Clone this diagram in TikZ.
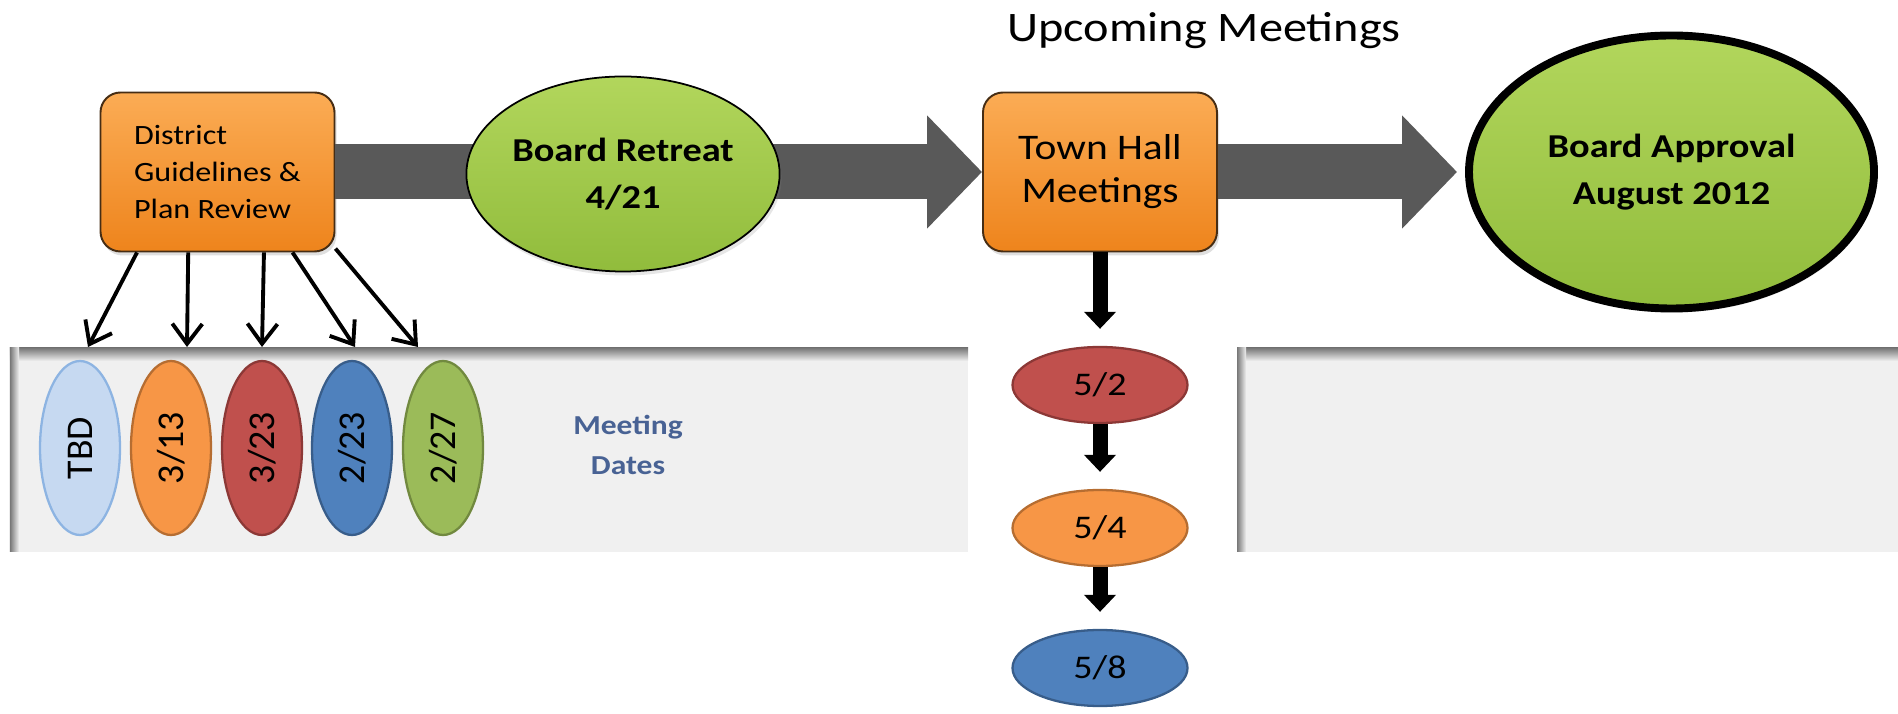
\documentclass[tikz,border=0pt]{standalone}
\usepackage{fontspec}
\setmainfont{Carlito}[FakeStretch=1.15]
\newfontfamily\datefont{Carlito}
\usetikzlibrary{arrows.meta,shapes.geometric,shadows}

\definecolor{orangetop}{RGB}{251,172,85}
\definecolor{orangebottom}{RGB}{238,132,28}
\definecolor{boxedge}{RGB}{70,45,20}
\definecolor{greentop}{RGB}{178,214,92}
\definecolor{greenbottom}{RGB}{145,188,60}
\definecolor{bandgray}{RGB}{89,89,89}
\definecolor{panelfill}{RGB}{240,240,240}
\definecolor{panelshade}{RGB}{120,120,120}
\definecolor{tbd}{RGB}{198,217,241}
\definecolor{tbdline}{RGB}{141,180,226}
\definecolor{orng}{RGB}{247,150,70}
\definecolor{orngline}{RGB}{182,109,49}
\definecolor{datered}{RGB}{192,80,77}
\definecolor{dateredline}{RGB}{140,56,54}
\definecolor{dateblue}{RGB}{79,129,189}
\definecolor{dateblueline}{RGB}{56,93,138}
\definecolor{dategreen}{RGB}{155,187,89}
\definecolor{dategreenline}{RGB}{113,137,63}
\definecolor{datestext}{RGB}{72,98,148}

\tikzset{
  planbox/.style={draw=boxedge, line width=1.1pt, rounded corners=0.4cm,
    top color=orangetop, bottom color=orangebottom,
    minimum width=4.68cm, minimum height=3.18cm,
    drop shadow={opacity=0.25, shadow xshift=0.04cm, shadow yshift=-0.08cm}},
  greenoval/.style={ellipse, draw=black, top color=greentop, bottom color=greenbottom,
    align=center, inner sep=0pt, font=\bfseries\fontsize{19}{26.4}\selectfont,
    drop shadow={opacity=0.2, shadow xshift=0.04cm, shadow yshift=-0.08cm}},
  dateoval/.style={ellipse, draw=#1line, fill=#1, line width=1.3pt, rotate=90,
    minimum width=3.48cm, minimum height=1.6cm, inner sep=0pt,
    font=\datefont\fontsize{21.5}{21.5}\selectfont},
  townoval/.style={ellipse, draw=#1line, fill=#1, line width=1.3pt,
    minimum width=3.5cm, minimum height=1.52cm, inner sep=0pt,
    font=\fontsize{18.8}{18.8}\selectfont},
  band/.style={draw=bandgray, line width=1.1cm, -{Triangle[length=1.1cm,width=2.2cm]}},
  bigdown/.style={draw=black, line width=0.3cm, -{Triangle[length=0.34cm,width=0.62cm]}, shorten >=0.34cm},
  datearrow/.style={draw=black, line width=2.2pt, -{Straight Barb[length=0.4cm,width=0.6cm]}}
}

\begin{document}
\begin{tikzpicture}
\useasboundingbox (0,0) rectangle (37.96,14.26);

\fill[panelfill] (0.2,3.22) rectangle (19.36,7.3);
\shade[top color=panelshade, bottom color=panelfill] (0.2,7.04) rectangle (19.36,7.3);
\shade[left color=panelshade, right color=panelfill] (0.2,3.22) rectangle (0.38,7.3);
\fill[panelfill] (24.74,3.22) rectangle (37.96,7.3);
\shade[top color=panelshade, bottom color=panelfill] (24.74,7.04) rectangle (37.96,7.3);
\shade[left color=panelshade, right color=panelfill] (24.74,3.22) rectangle (24.92,7.3);

\node[font=\fontsize{23.9}{28}\selectfont, anchor=base] (upcoming) at (24.08,13.42) {Upcoming Meetings};

\node[planbox, align=left, font=\fontsize{15.9}{21}\selectfont] (dist) at (4.35,10.82) {District\\Guidelines \&\\Plan Review};
\node[planbox, align=center, font=\fontsize{20.5}{24.5}\selectfont] (town) at (22,10.82) {Town Hall\\Meetings};
\node[greenoval, line width=4.5pt, minimum width=8.1cm, minimum height=5.46cm] (appr) at (33.43,10.82) {Board Approval\\August 2012};

\draw[band] (dist.east) -- (town.west);
\draw[band, shorten >=0.16cm] (town.east) -- (appr.west);

\node[greenoval, line width=1pt, minimum width=5.8cm, minimum height=3.9cm] (retreat) at (12.46,10.78) {Board Retreat\\4/21};

\node[dateoval=tbd] (tbd) at (1.6,5.3) {TBD};
\node[dateoval=orng] (d313) at (3.42,5.3) {3/13};
\node[dateoval=datered] (d323) at (5.24,5.3) {3/23};
\node[dateoval=dateblue] (d223) at (7.04,5.3) {2/23};
\node[dateoval=dategreen] (d227) at (8.86,5.3) {2/27};
\node[font=\bfseries\fontsize{15.6}{22.8}\selectfont, text=datestext, align=center] (dates) at (12.56,5.36) {Meeting\\Dates};

\coordinate (e1) at (1.76,7.32);
\coordinate (e2) at (3.74,7.32);
\coordinate (e3) at (5.24,7.32);
\coordinate (e4) at (7.1,7.32);
\coordinate (e5) at (8.36,7.32);
\draw[datearrow] (dist.225) -- (e1);
\draw[datearrow] (dist.250) -- (e2);
\draw[datearrow] (dist.300) -- (e3);
\draw[datearrow] (dist.313) -- (e4);
\draw[datearrow] (dist.327) -- (e5);

\node[townoval=datered] (m52) at (22,6.56) {5/2};
\node[townoval=orng] (m54) at (22,3.7) {5/4};
\node[townoval=dateblue] (m58) at (22,0.9) {5/8};
\draw[bigdown] (town.south) -- (m52.north);
\draw[bigdown] (m52.south) -- (m54.north);
\draw[bigdown] (m54.south) -- (m58.north);
\end{tikzpicture}
\end{document}
